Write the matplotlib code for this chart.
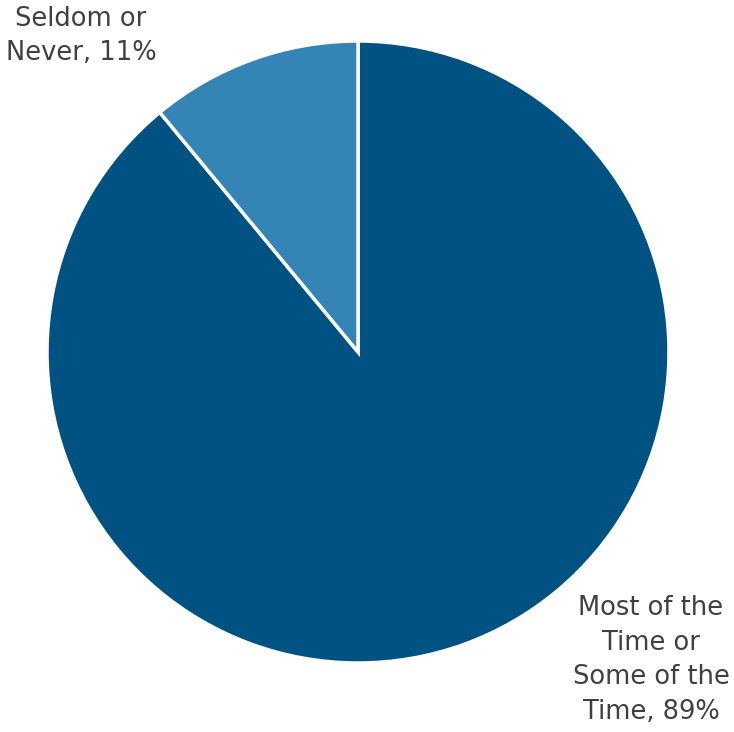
import matplotlib
matplotlib.use("Agg")
import matplotlib.pyplot as plt

categories = ["Most of the\nTime or\nSome of the\nTime, 89%", "Seldom or\nNever, 11%"]
values = [89, 11]
colors = ["#005282", "#3584B6"]

fig = plt.figure(figsize=(7.34, 7.32), dpi=100)
ax = fig.add_axes([0, 0, 1, 1])

ax.pie(values, colors=colors, startangle=90, counterclock=False,
       center=(358, 380), radius=311, frame=True,
       wedgeprops=dict(edgecolor="white", linewidth=2.5))
ax.set_xlim(0, 734)
ax.set_ylim(0, 732)
ax.set_aspect("equal")
ax.axis("off")

ax.text(81, 732 - 36, categories[1], ha="center", va="center",
        fontsize=18.5, color="#404040", linespacing=1.42)
ax.text(651, 732 - 660, categories[0], ha="center", va="center",
        fontsize=18.5, color="#404040", linespacing=1.42)

fig.savefig("out.png", dpi=100)
